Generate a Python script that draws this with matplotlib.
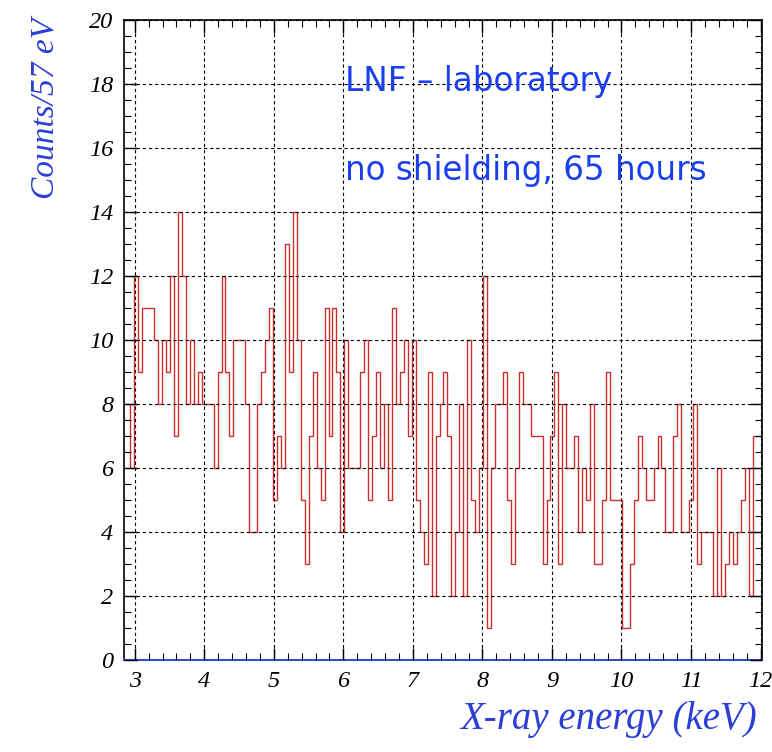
import numpy as np
import matplotlib
matplotlib.use("Agg")
import matplotlib.pyplot as plt
from matplotlib.ticker import MultipleLocator

# ---------------------------------------------------------------------------
# Data: counts per 57 eV bin (2.88 - 12.0 keV)

bin_start = 2.88   # keV
bin_width = 0.057  # keV

counts = [
    8, 6, 12, 9, 11, 11, 11, 10, 8, 10,
    9, 12, 7, 14, 12, 8, 10, 8, 9, 8,
    8, 8, 6, 9, 12, 9, 7, 10, 10, 10,
    8, 4, 4, 8, 9, 10, 11, 5, 7, 6,
    13, 9, 14, 10, 5, 3, 7, 9, 6, 5,
    11, 7, 11, 9, 4, 10, 6, 6, 6, 9,
    10, 5, 7, 9, 6, 8, 5, 11, 8, 9,
    10, 7, 10, 5, 4, 3, 9, 2, 7, 8,
    9, 7, 2, 4, 8, 2, 10, 5, 4, 6,
    12, 1, 6, 8, 8, 9, 5, 3, 6, 9,
    8, 8, 7, 7, 7, 3, 5, 7, 9, 3,
    8, 6, 6, 7, 4, 6, 5, 8, 3, 3,
    5, 9, 5, 5, 5, 1, 1, 3, 5, 7,
    6, 5, 5, 6, 7, 6, 4, 4, 7, 8,
    4, 4, 5, 8, 3, 4, 4, 4, 2, 6,
    2, 3, 4, 3, 4, 5, 6, 2, 7, 7,
]

xlabel = "X-ray energy (keV)"
ylabel = "Counts/57 eV"
notes = ["LNF \u2013 laboratory", "no shielding, 65 hours"]

# ---------------------------------------------------------------------------
# Style

plt.rcParams["font.family"] = ["Liberation Serif", "DejaVu Serif"]
plt.rcParams["font.style"] = "italic"

label_blue = "#2b3fd6"
note_blue = "#1a3ff0"
hist_red = "#cc2e2e"

fig = plt.figure(figsize=(7.72, 7.52), dpi=100)
ax = fig.add_axes([0.161, 0.122, 0.826, 0.851])

edges = bin_start + bin_width * np.arange(len(counts) + 1)
ax.stairs(counts, edges, color=hist_red, linewidth=1.0, baseline=None)

ax.set_xlim(2.85, 12.02)
ax.set_ylim(0, 20)

ax.xaxis.set_major_locator(MultipleLocator(1))
ax.xaxis.set_minor_locator(MultipleLocator(0.2))
ax.yaxis.set_major_locator(MultipleLocator(2))
ax.yaxis.set_minor_locator(MultipleLocator(0.5))

ax.tick_params(which="both", direction="in", top=True, right=True, colors="black")
ax.tick_params(which="major", length=9, width=1.0, labelsize=17.5)
ax.tick_params(which="minor", length=5, width=0.8)
ax.tick_params(axis="y", pad=8)
ax.tick_params(axis="x", pad=8)

ax.grid(True, which="major", color="black", linestyle=(0, (3, 2.5)), linewidth=0.8)
ax.set_axisbelow(False)

for side in ["left", "top", "right"]:
    ax.spines[side].set_linewidth(1.2)
ax.spines["bottom"].set_color("#3050d0")
ax.spines["bottom"].set_linewidth(1.5)

fig.text(0.058, 0.976, ylabel, rotation=90, ha="center", va="top",
         fontsize=24, color=label_blue)
fig.text(0.981, 0.043, xlabel, ha="right", va="center",
         fontsize=28, color=label_blue)

ax.text(6.03, 18.1, notes[0], ha="left", va="center", fontsize=23.5,
        color=note_blue, family="DejaVu Sans", style="normal")
ax.text(6.03, 15.3, notes[1], ha="left", va="center", fontsize=23.5,
        color=note_blue, family="DejaVu Sans", style="normal")

fig.savefig("out.png", dpi=100)
